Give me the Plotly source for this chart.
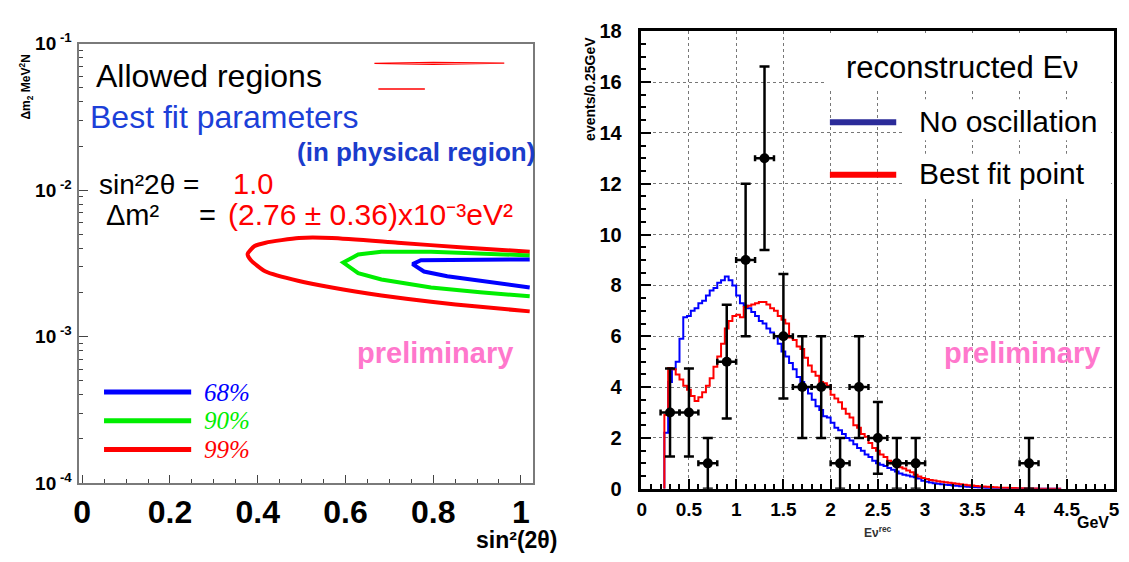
import numpy as np
import plotly.graph_objects as go

W, H = 1129, 562

# ---------------- left panel data (sin^2 2theta , dm^2) ----------------
c99_x = [1.02, 0.869, 0.719, 0.569, 0.494, 0.418, 0.393, 0.377, 0.384, 0.418, 0.494, 0.569, 0.682, 0.795, 0.907, 1.02]
c99_y = [3.80e-3, 4.055e-3, 4.375e-3, 4.71e-3, 4.71e-3, 4.375e-3, 4.15e-3, 3.664e-3, 3.33e-3, 2.78e-3,
         2.393e-3, 2.163e-3, 1.91e-3, 1.726e-3, 1.596e-3, 1.486e-3]
c90_x = [1.02, 0.795, 0.682, 0.629, 0.595, 0.629, 0.682, 0.795, 0.907, 1.02]
c90_y = [3.58e-3, 3.80e-3, 3.80e-3, 3.63e-3, 3.20e-3, 2.71e-3, 2.455e-3, 2.163e-3, 2.01e-3, 1.884e-3]
c68_x = [1.02, 0.832, 0.772, 0.753, 0.779, 0.832, 0.907, 1.02]
c68_y = [3.365e-3, 3.35e-3, 3.32e-3, 3.126e-3, 2.78e-3, 2.58e-3, 2.393e-3, 2.163e-3]
# small spurious contour pieces near the top
art1_x = [0.666, 0.80, 0.962, 0.80, 0.666]
art1_y = [0.0733, 0.0745, 0.0735, 0.0722, 0.0733]
art2_x = [0.675, 0.781]
art2_y = [0.0491, 0.0491]

left_xticks = [0, 0.2, 0.4, 0.6, 0.8, 1]
left_xticktext = ["0", "0.2", "0.4", "0.6", "0.8", "1"]
left_yticks = [1e-4, 1e-3, 1e-2, 1e-1]
left_yticktext = ["10<sup> -4</sup>", "10<sup> -3</sup>", "10<sup> -2</sup>", "10<sup> -1</sup>"]

# ---------------- right panel data (reconstructed E_nu) ----------------
bin_start = 0.24
bin_width = 0.04
no_osc = [2.2, 4.2, 4.7, 5.0, 5.9, 6.75, 6.8, 7.0, 7.1, 7.3, 7.4, 7.6, 7.8, 7.9, 8.1, 8.2, 8.35, 8.2, 8.0, 7.6,
          7.3, 7.2, 7.1, 6.95, 6.8, 6.6, 6.5, 6.3, 6.15, 6.0, 5.7, 5.4, 5.2, 4.95, 4.7, 4.4, 4.2, 4.0, 3.75, 3.5,
          3.25, 3.1, 2.85, 2.8, 2.6, 2.4, 2.3, 2.15, 2.0, 1.9, 1.75, 1.6, 1.5, 1.35, 1.25, 1.1, 1.0, 0.95, 0.9, 0.82,
          0.75, 0.68, 0.6, 0.55, 0.52, 0.48, 0.45, 0.4, 0.32, 0.28, 0.25, 0.22, 0.2, 0.18, 0.16, 0.15, 0.13, 0.12, 0.1, 0.09,
          0.08, 0.07, 0.06, 0.05, 0.04, 0.035, 0.03, 0.025, 0.02, 0.015, 0.012, 0.01, 0.008, 0.006, 0.005, 0.004, 0.003, 0.002, 0.002, 0.001,
          0.001, 0.001, 0.0, 0.0, 0.0]
best_fit = [2.9, 4.75, 4.7, 4.5, 4.3, 4.05, 3.9, 3.65, 3.45, 3.6, 3.8, 4.05, 4.35, 4.8, 5.2, 5.7, 6.3, 6.6, 6.8, 6.85,
            6.75, 7.15, 7.2, 7.25, 7.3, 7.35, 7.35, 7.25, 7.1, 7.0, 6.8, 6.65, 6.5, 5.95, 5.85, 5.6, 5.5, 5.15, 4.85, 4.6,
            4.45, 4.2, 4.15, 4.05, 3.7, 3.55, 3.4, 3.15, 2.95, 2.8, 2.5, 2.4, 2.15, 2.05, 1.8, 1.6, 1.5, 1.35, 1.25, 1.1,
            1.0, 0.9, 0.85, 0.8, 0.72, 0.65, 0.55, 0.48, 0.42, 0.38, 0.35, 0.33, 0.3, 0.28, 0.26, 0.24, 0.22, 0.2, 0.18, 0.16,
            0.14, 0.13, 0.11, 0.1, 0.09, 0.08, 0.07, 0.06, 0.05, 0.045, 0.04, 0.035, 0.03, 0.025, 0.02, 0.015, 0.01, 0.008, 0.006, 0.005,
            0.004, 0.003, 0.002, 0.001, 0.001]
data_E = [0.3, 0.5, 0.7, 0.9, 1.1, 1.3, 1.5, 1.7, 1.9, 2.1, 2.3, 2.5, 2.7, 2.9, 4.1]
data_N = [3, 3, 1, 5, 9, 13, 6, 4, 4, 1, 4, 2, 1, 1, 1]
data_err = [1.73, 1.73, 1.0, 2.24, 3.0, 3.61, 2.45, 2.0, 2.0, 1.0, 2.0, 1.41, 1.0, 1.0, 1.0]
data_xerr = 0.1


def step_xy(vals):
    edges = bin_start + bin_width * np.arange(len(vals) + 1)
    xs = [edges[0]] + list(edges[:-1]) + [edges[-1]]
    ys = [0.0] + list(vals) + [vals[-1]]
    return xs, ys


def PX(x):
    return x / W


def PY(y):
    return 1 - y / H


FONT = "Liberation Sans"
fig = go.Figure()

# ---- left panel traces ----
fig.add_trace(go.Scatter(x=c99_x, y=c99_y, mode="lines", line=dict(color="#ff0000", width=4, shape="spline", smoothing=0.6),
                         xaxis="x", yaxis="y", showlegend=False, hoverinfo="skip"))
fig.add_trace(go.Scatter(x=c90_x, y=c90_y, mode="lines", line=dict(color="#00ee00", width=4),
                         xaxis="x", yaxis="y", showlegend=False, hoverinfo="skip"))
fig.add_trace(go.Scatter(x=c68_x, y=c68_y, mode="lines", line=dict(color="#0000ff", width=4),
                         xaxis="x", yaxis="y", showlegend=False, hoverinfo="skip"))
fig.add_trace(go.Scatter(x=art1_x, y=art1_y, mode="lines", line=dict(color="#ff0000", width=1.3),
                         xaxis="x", yaxis="y", showlegend=False, hoverinfo="skip"))
fig.add_trace(go.Scatter(x=art2_x, y=art2_y, mode="lines", line=dict(color="#ff0000", width=1.5),
                         xaxis="x", yaxis="y", showlegend=False, hoverinfo="skip"))

# ---- right panel traces ----
bx, by = step_xy(no_osc)
rx, ry = step_xy(best_fit)
fig.add_trace(go.Scatter(x=bx, y=by, mode="lines", line=dict(color="#0000ff", width=2, shape="hv"),
                         xaxis="x2", yaxis="y2", showlegend=False, hoverinfo="skip"))
fig.add_trace(go.Scatter(x=rx, y=ry, mode="lines", line=dict(color="#ff0000", width=2, shape="hv"),
                         xaxis="x2", yaxis="y2", showlegend=False, hoverinfo="skip"))
fig.add_trace(go.Scatter(x=data_E, y=data_N, mode="markers",
                         marker=dict(color="black", size=10),
                         error_y=dict(type="data", array=data_err, color="black", thickness=2.5, width=5),
                         error_x=dict(type="constant", value=data_xerr, color="black", thickness=2.5, width=3),
                         xaxis="x2", yaxis="y2", showlegend=False, hoverinfo="skip"))

# ---- axes ----
Lx0, Lx1, Ly0, Ly1 = 74.3, 532.7, 32, 491
Rx0, Rx1, Ry0, Ry1 = 642, 1120, 19, 497

fig.update_layout(
    width=W, height=H, margin=dict(l=0, r=0, t=0, b=0),
    paper_bgcolor="white", plot_bgcolor="white",
    font=dict(family=FONT, color="black"),
    xaxis=dict(domain=[PX(Lx0), PX(Lx1)], range=[-0.0084, 1.0264], anchor="y",
               showgrid=False, zeroline=False, showline=True, linecolor="#7a7a7a", linewidth=2, mirror=True,
               tickmode="array", tickvals=left_xticks, ticktext=left_xticktext,
               ticks="inside", ticklen=8, tickwidth=1, tickcolor="#444",
               minor=dict(dtick=0.05, ticks="inside", ticklen=4, tickcolor="#444", showgrid=False),
               tickfont=dict(family=FONT, size=32, weight="bold", color="black"), ticklabelstandoff=0),
    yaxis=dict(domain=[PY(Ly1), PY(Ly0)], type="log", range=[-4, -1], anchor="x",
               showgrid=False, zeroline=False, showline=True, linecolor="#7a7a7a", linewidth=2, mirror=True,
               tickmode="array", tickvals=left_yticks, ticktext=left_yticktext,
               ticks="inside", ticklen=9, tickwidth=1, tickcolor="#444",
               minor=dict(tickvals=[m * 10.0 ** e for e in range(-4, -1) for m in range(2, 10)],
                          ticks="inside", ticklen=4, tickcolor="#444", showgrid=False),
               tickfont=dict(family=FONT, size=19, weight="bold", color="black"), ticklabelstandoff=1),
    xaxis2=dict(domain=[PX(Rx0), PX(Rx1)], range=[-0.01, 5.0], anchor="y2",
                showgrid=True, gridcolor="#777", griddash="dot", gridwidth=1,
                zeroline=False, showline=True, linecolor="black", linewidth=3, mirror=True,
                dtick=0.5, ticks="inside", ticklen=10, tickwidth=1.5, tickcolor="black",
                minor=dict(dtick=0.1, ticks="inside", ticklen=5, tickcolor="black", showgrid=False),
                tickfont=dict(family=FONT, size=19, weight="bold", color="black"), ticklabelstandoff=1),
    yaxis2=dict(domain=[PY(Ry1), PY(Ry0)], range=[0, 18], anchor="x2",
                showgrid=True, gridcolor="#777", griddash="dot", gridwidth=1,
                zeroline=False, showline=True, linecolor="black", linewidth=3, mirror=True,
                dtick=2, ticks="inside", ticklen=10, tickwidth=1.5, tickcolor="black",
                minor=dict(dtick=0.5, ticks="inside", ticklen=5, tickcolor="black", showgrid=False),
                tickfont=dict(family=FONT, size=20, weight="bold", color="black"), ticklabelstandoff=12),
)

ann = []


def text(x, y, s, size, color="black", bold=False, italic=False, xanchor="left", family=FONT, angle=0, **kw):
    ann.append(dict(x=PX(x), y=PY(y), xref="paper", yref="paper", text=s, showarrow=False,
                    xanchor=xanchor, yanchor="middle", textangle=angle,
                    font=dict(family=family, size=size, color=color, weight="bold" if bold else "normal",
                              style="italic" if italic else "normal"), **kw))


# left panel texts
text(90, 66, "Allowed regions", 32)
text(84, 109, "Best fit parameters", 32, color="#1c3fd8")
text(537, 145, "(in physical region)", 26, color="#1a3ccc", bold=True, xanchor="right")
text(93, 179, "sin²2θ =", 28)
text(228, 179, "1.0", 29, color="#ff0000")
text(100, 211, "Δm²", 29)
text(194, 211, "=", 29)
text(223, 211, "(2.76 ± 0.36)x10⁻³eV²", 30, color="#ff0000")
text(353, 355, "preliminary", 29, color="#ff77cc", bold=True)
text(199, 396, "68%", 25, color="#0000ff", italic=True, family="Liberation Serif")
text(199, 426, "90%", 25, color="#00ee00", italic=True, family="Liberation Serif")
text(199, 456, "99%", 25, color="#ff0000", italic=True, family="Liberation Serif")
text(559, 550, "sin²(2θ)", 23, bold=True, xanchor="right")
text(21, 77, "Δm<sub>2</sub> MeV<sup>2</sup>N", 12, bold=True, xanchor="center", angle=-90)

# right panel texts
text(847, 57, "reconstructed Eν", 31)
text(921, 113, "No oscillation", 30)
text(921, 168, "Best fit point", 30)
text(946, 355, "preliminary", 29, color="#ff77cc", bold=True)
text(590, 79, "events/0.25GeV", 14, bold=True, xanchor="center", angle=-90)
text(1117, 532, "GeV", 16, bold=True, xanchor="right")
text(882, 542, "Eν<sup>rec</sup>", 12, bold=True, color="#333", xanchor="center")

fig.update_layout(annotations=ann)

shapes = []
# white boxes behind the right-panel legend texts (cover the dotted grid)
for (x0, y0, x1, y1) in [(829, 21, 1117, 80), (907, 90, 1117, 133), (907, 147, 1117, 192)]:
    shapes.append(dict(type="rect", xref="paper", yref="paper", x0=PX(x0), x1=PX(x1), y0=PY(y1), y1=PY(y0),
                       fillcolor="white", line=dict(width=0), layer="above"))
# legend sample lines
for y, c in [(396, "#0000ff"), (426, "#00ee00"), (456, "#ff0000")]:
    shapes.append(dict(type="line", xref="paper", yref="paper", x0=PX(100), x1=PX(188), y0=PY(y), y1=PY(y),
                       line=dict(color=c, width=5), layer="above"))
for y, c in [(114, "#2b2b99"), (169, "#ff0000")]:
    shapes.append(dict(type="line", xref="paper", yref="paper", x0=PX(833), x1=PX(900), y0=PY(y), y1=PY(y),
                       line=dict(color=c, width=6), layer="above"))
fig.update_layout(shapes=shapes)

fig.write_html("out.html")
